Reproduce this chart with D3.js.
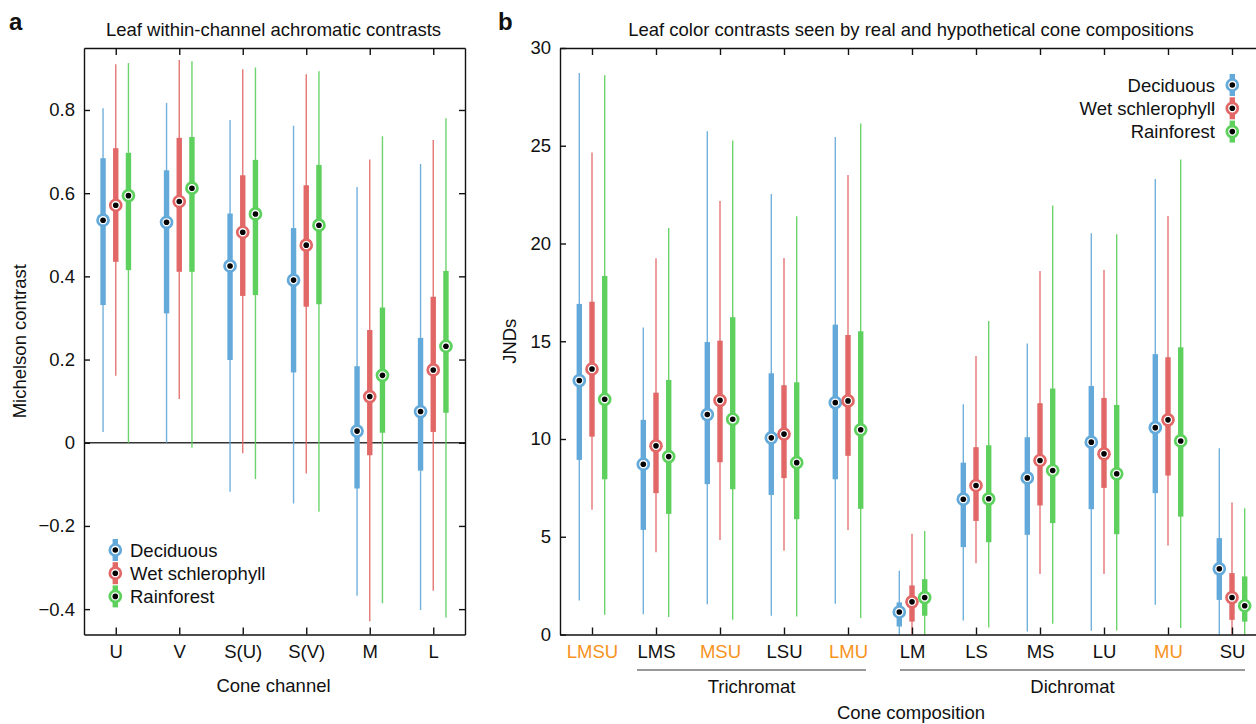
<!DOCTYPE html>
<html lang="en">
<head>
<meta charset="utf-8">
<title>Leaf contrasts</title>
<script src="https://d3js.org/d3.v7.min.js"></script>
<style>
  body { margin: 0; background: #fff; }
  text { font-family: "Liberation Sans", Arial, Helvetica, sans-serif; font-size: 18.5px; fill: #111; }
  text.panel { font-size: 24px; font-weight: bold; }
  .axis path, .axis line { stroke: #111; stroke-width: 1.4; }
  .axis text { font-size: 18.5px; }
</style>
</head>
<body>
<div id="chart"></div>
<script>
// ---- data ----
const habitats = ["Deciduous", "Wet schlerophyll", "Rainforest"];
const colours = ["#63a9d9", "#e26868", "#5dd05d"];

// panel a: [whisker low, q1, median, q3, whisker high]
const channels = ["U", "V", "S(U)", "S(V)", "M", "L"];
const aDeciduous = [
  [0.026, 0.331, 0.535, 0.684, 0.804],
  [0.000, 0.311, 0.530, 0.655, 0.817],
  [-0.118, 0.199, 0.425, 0.551, 0.776],
  [-0.146, 0.169, 0.391, 0.516, 0.762],
  [-0.368, -0.110, 0.028, 0.184, 0.615],
  [-0.402, -0.067, 0.075, 0.252, 0.670]
];
const aWet = [
  [0.161, 0.435, 0.571, 0.708, 0.910],
  [0.105, 0.411, 0.580, 0.733, 0.920],
  [-0.025, 0.353, 0.506, 0.643, 0.898],
  [-0.074, 0.327, 0.475, 0.619, 0.886],
  [-0.429, -0.030, 0.111, 0.271, 0.681],
  [-0.356, 0.026, 0.175, 0.351, 0.728]
];
const aRain = [
  [0.000, 0.415, 0.594, 0.697, 0.913],
  [-0.012, 0.411, 0.612, 0.735, 0.917],
  [-0.087, 0.355, 0.550, 0.680, 0.902],
  [-0.166, 0.333, 0.523, 0.668, 0.893],
  [-0.386, 0.024, 0.162, 0.325, 0.737],
  [-0.420, 0.072, 0.232, 0.413, 0.780]
];
const aTicks = [-0.4, -0.2, 0, 0.2, 0.4, 0.6, 0.8];

// panel b
const compositions = ["LMSU", "LMS", "MSU", "LSU", "LMU", "LM", "LS", "MS", "LU", "MU", "SU"];
const highlighted = ["LMSU", "MSU", "LMU", "MU"];
const bDeciduous = [
  [1.74, 8.93, 12.99, 16.91, 28.72],
  [1.04, 5.35, 8.71, 10.98, 15.70],
  [1.55, 7.69, 11.25, 14.96, 25.74],
  [0.96, 7.14, 10.06, 13.36, 22.53],
  [1.57, 7.94, 11.86, 15.85, 25.45],
  [0.00, 0.41, 1.15, 1.64, 3.26],
  [0.72, 4.47, 6.92, 8.79, 11.78],
  [0.15, 5.10, 8.01, 10.09, 14.88],
  [0.19, 6.41, 9.84, 12.71, 20.52],
  [1.52, 7.23, 10.58, 14.34, 23.30],
  [0.00, 1.77, 3.36, 4.93, 9.53]
];
const bWet = [
  [6.38, 10.12, 13.58, 17.02, 24.66],
  [4.21, 7.23, 9.65, 12.37, 19.24],
  [4.84, 8.81, 11.98, 15.03, 22.17],
  [4.28, 8.00, 10.25, 12.75, 19.26],
  [5.35, 9.14, 11.95, 15.32, 23.50],
  [0.00, 0.66, 1.67, 2.51, 5.15],
  [3.65, 5.81, 7.62, 9.58, 14.25],
  [3.10, 6.60, 8.90, 11.83, 18.59],
  [3.09, 7.50, 9.24, 12.10, 18.64],
  [4.55, 8.13, 10.98, 14.18, 21.41],
  [0.00, 0.75, 1.89, 3.14, 6.75]
];
const bRain = [
  [1.01, 7.94, 12.03, 18.34, 28.61],
  [0.89, 6.17, 9.10, 13.02, 20.79],
  [0.75, 7.43, 11.01, 16.23, 25.27],
  [0.92, 5.90, 8.79, 12.90, 21.39],
  [0.84, 6.43, 10.47, 15.51, 26.14],
  [0.00, 0.96, 1.89, 2.83, 5.30],
  [0.36, 4.72, 6.94, 9.68, 16.04],
  [0.55, 5.70, 8.39, 12.58, 21.95],
  [0.20, 5.13, 8.22, 11.74, 20.47],
  [0.33, 6.03, 9.90, 14.69, 24.30],
  [0.00, 0.66, 1.47, 2.97, 6.46]
];
const bTicks = [0, 5, 10, 15, 20, 25, 30];
const groups = [
  { name: "Trichromat", from: "LMS", to: "LMU", padL: 19, padR: 18 },
  { name: "Dichromat", from: "LM", to: "SU", padL: 12, padR: 13 }
];

// ---- layout ----
const W = 1256, H = 724;
const plotTop = 48, plotBottom = 634.5;
const offsets = [-12.7, 0, 12.7];

const svg = d3.select("#chart").append("svg")
  .attr("width", W).attr("height", H);

function drawBoxes(g, cats, series, x, y) {
  series.forEach((s, si) => {
    const col = colours[si];
    const sg = g.append("g");
    const items = cats.map((c, i) => ({ c: c, v: s[i] }));
    sg.selectAll("line.whisker").data(items).enter().append("line")
      .attr("class", "whisker")
      .attr("x1", d => x(d.c) + offsets[si]).attr("x2", d => x(d.c) + offsets[si])
      .attr("y1", d => y(d.v[0])).attr("y2", d => y(d.v[4]))
      .attr("stroke", col).attr("stroke-width", 1.4).attr("opacity", 0.9);
    sg.selectAll("rect.iqr").data(items).enter().append("rect")
      .attr("class", "iqr")
      .attr("x", d => x(d.c) + offsets[si] - 2.7).attr("width", 5.4)
      .attr("y", d => y(d.v[3])).attr("height", d => y(d.v[1]) - y(d.v[3]))
      .attr("fill", col);
    sg.selectAll("circle.med").data(items).enter().append("circle")
      .attr("class", "med")
      .attr("cx", d => x(d.c) + offsets[si]).attr("cy", d => y(d.v[2]))
      .attr("r", 5.5).attr("fill", "#fff").attr("stroke", col).attr("stroke-width", 2.7);
    sg.selectAll("circle.dot").data(items).enter().append("circle")
      .attr("class", "dot")
      .attr("cx", d => x(d.c) + offsets[si]).attr("cy", d => y(d.v[2]))
      .attr("r", 2.8).attr("fill", "#000");
  });
}

function legendMark(g, cx, cy, col) {
  g.append("rect").attr("x", cx - 2.7).attr("y", cy - 11).attr("width", 5.4).attr("height", 22).attr("fill", col);
  g.append("circle").attr("cx", cx).attr("cy", cy).attr("r", 5.5)
    .attr("fill", "#fff").attr("stroke", col).attr("stroke-width", 2.7);
  g.append("circle").attr("cx", cx).attr("cy", cy).attr("r", 2.8).attr("fill", "#000");
}

const fmtA = d => d === 0 ? "0" : (d < 0 ? "\u2212" + d3.format(".1f")(-d) : d3.format(".1f")(d));

// ---- panel a ----
const aLeft = 84, aRight = 465;
const xa = d3.scalePoint().domain(channels).range([aLeft, aRight]).padding(0.5);
const ya = d3.scaleLinear().domain([-0.461, 0.949]).range([plotBottom, plotTop]);
const ga = svg.append("g");

ga.append("line").attr("x1", aLeft).attr("x2", aRight).attr("y1", ya(0)).attr("y2", ya(0))
  .attr("stroke", "#333").attr("stroke-width", 1.3);

drawBoxes(ga, channels, [aDeciduous, aWet, aRain], xa, ya);

ga.append("g").attr("class", "axis").attr("transform", `translate(${aLeft},0)`)
  .call(d3.axisLeft(ya).tickValues(aTicks).tickFormat(fmtA).tickSizeInner(-6).tickSizeOuter(0).tickPadding(9));
ga.append("g").attr("class", "axis").attr("transform", `translate(${aRight},0)`)
  .call(d3.axisRight(ya).tickValues(aTicks).tickFormat("").tickSizeInner(-6).tickSizeOuter(0));
ga.append("g").attr("class", "axis").attr("transform", `translate(0,${plotBottom})`)
  .call(d3.axisBottom(xa).tickSizeInner(-7).tickSizeOuter(0).tickPadding(10));
ga.append("g").attr("class", "axis").attr("transform", `translate(0,${plotTop})`)
  .call(d3.axisTop(xa).tickFormat("").tickSizeInner(-7).tickSizeOuter(0));

ga.append("text").attr("class", "panel").attr("x", 9).attr("y", 30).text("a");
ga.append("text").attr("x", (aLeft + aRight) / 2 - 1).attr("y", 36).attr("text-anchor", "middle")
  .text("Leaf within-channel achromatic contrasts");
ga.append("text").attr("x", (aLeft + aRight) / 2 - 1).attr("y", 692).attr("text-anchor", "middle")
  .text("Cone channel");
ga.append("text").attr("transform", `translate(26,${(plotTop + plotBottom) / 2}) rotate(-90)`)
  .attr("text-anchor", "middle").text("Michelson contrast");

const legA = ga.append("g");
habitats.forEach((h, i) => {
  const cy = 550 + i * 23.2;
  legendMark(legA, 115.3, cy, colours[i]);
  legA.append("text").attr("x", 130).attr("y", cy + 6.5).text(h);
});

// ---- panel b ----
const bLeft = 560, bRight = 1264;
const xb = d3.scalePoint().domain(compositions).range([bLeft, bRight]).padding(0.5);
const yb = d3.scaleLinear().domain([0, 30]).range([plotBottom, plotTop]);
const gb = svg.append("g");

drawBoxes(gb, compositions, [bDeciduous, bWet, bRain], xb, yb);

gb.append("g").attr("class", "axis").attr("transform", `translate(${bLeft},0)`)
  .call(d3.axisLeft(yb).tickValues(bTicks).tickSizeInner(-6).tickSizeOuter(0).tickPadding(9));
const bx = gb.append("g").attr("class", "axis").attr("transform", `translate(0,${plotBottom})`)
  .call(d3.axisBottom(xb).tickSizeInner(-7).tickSizeOuter(0).tickPadding(10));
bx.selectAll(".tick text").style("fill", d => highlighted.includes(d) ? "#f7931e" : "#111");
gb.append("g").attr("class", "axis").attr("transform", `translate(0,${plotTop})`)
  .call(d3.axisTop(xb).tickFormat("").tickSizeInner(-7).tickSizeOuter(0));

groups.forEach(gr => {
  const x1 = xb(gr.from) - gr.padL, x2 = xb(gr.to) + gr.padR;
  gb.append("line").attr("x1", x1).attr("x2", x2).attr("y1", 670).attr("y2", 670)
    .attr("stroke", "#777").attr("stroke-width", 1.3);
  gb.append("text").attr("x", (x1 + x2) / 2).attr("y", 693).attr("text-anchor", "middle").text(gr.name);
});

gb.append("text").attr("class", "panel").attr("x", 498).attr("y", 30).text("b");
gb.append("text").attr("x", 911).attr("y", 36).attr("text-anchor", "middle")
  .text("Leaf color contrasts seen by real and hypothetical cone compositions");
gb.append("text").attr("x", 911).attr("y", 719).attr("text-anchor", "middle").text("Cone composition");
gb.append("text").attr("transform", `translate(516,${(plotTop + plotBottom) / 2}) rotate(-90)`)
  .attr("text-anchor", "middle").text("JNDs");

const legB = gb.append("g");
habitats.forEach((h, i) => {
  const cy = 85 + i * 23.3;
  legendMark(legB, 1232.3, cy, colours[i]);
  legB.append("text").attr("x", 1215).attr("y", cy + 6.5).attr("text-anchor", "end").text(h);
});
</script>
</body>
</html>
